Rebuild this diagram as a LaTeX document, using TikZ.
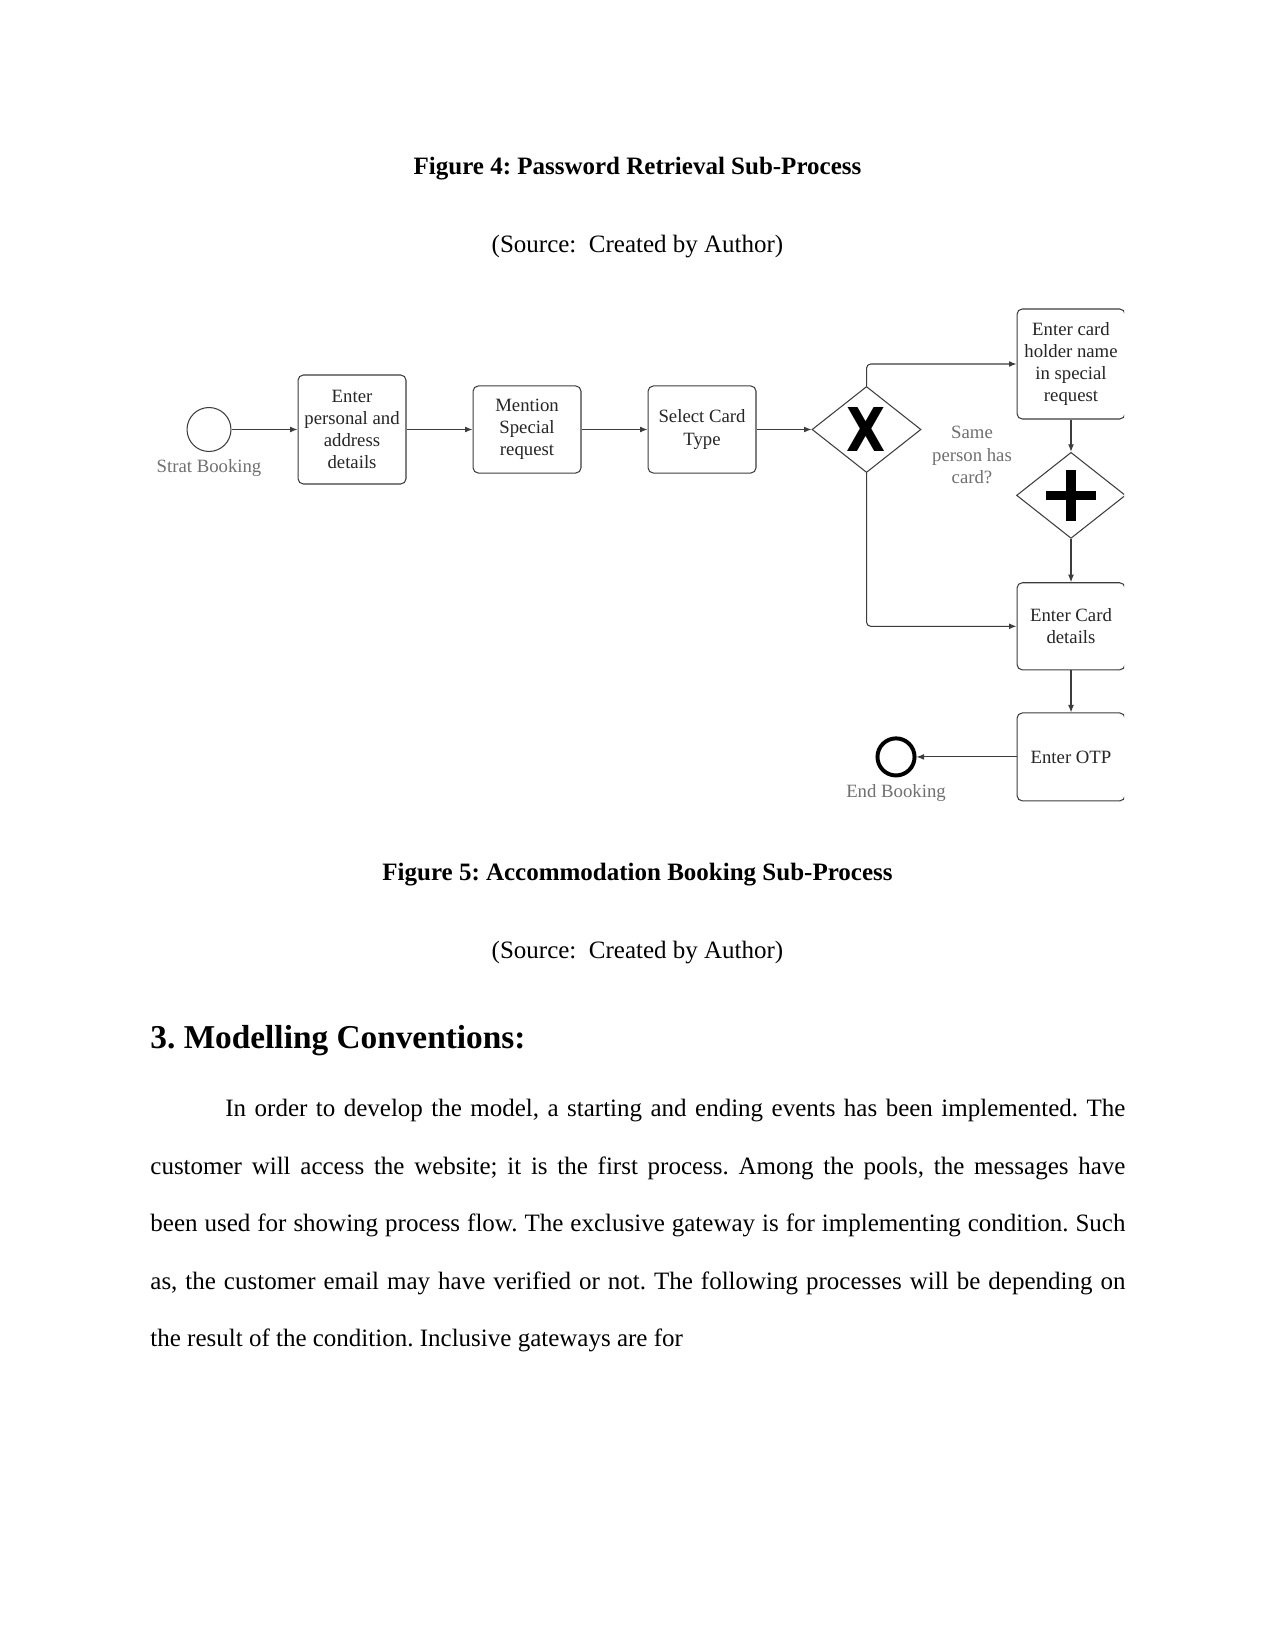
\documentclass[tikz,border=0pt]{standalone}
\usepackage{fontspec}
\setmainfont{Liberation Serif}
\newfontfamily\gwfont{DejaVu Sans}
\usetikzlibrary{arrows.meta,positioning,shapes.geometric}
\definecolor{taskline}{HTML}{3C3C3C}
\definecolor{evlabel}{HTML}{707070}
\tikzset{task/.style={draw=taskline,rounded corners=2.5pt,line width=0.5pt,minimum width=51.8pt,align=center,text=black!85,font=\fontsize{9}{10.6}\selectfont,inner sep=2pt},gw/.style={diamond,draw=taskline,line width=0.5pt,minimum width=52.3pt,minimum height=41.3pt,inner sep=0pt},startev/.style={circle,draw=taskline,line width=0.5pt,minimum size=21.1pt,inner sep=0pt},endev/.style={circle,draw=black,line width=1.9pt,minimum size=17.8pt,inner sep=0pt},evtext/.style={text=evlabel,font=\fontsize{9}{11}\selectfont},flow/.style={-{Latex[length=3.6pt,width=2.8pt]},draw=taskline,line width=0.5pt,rounded corners=2pt},caption/.style={font=\bfseries\fontsize{12}{14}\selectfont},source/.style={font=\fontsize{12}{14}\selectfont}}

\begin{document}
\frenchspacing
\begin{tikzpicture}[x=0.48pt,y=-0.48pt]
\useasboundingbox[fill=white] (0,0) rectangle (1275,1650);
\node[caption,anchor=base] (fig4) at (637.5,174.5) {Figure 4: Password Retrieval Sub-Process};
\node[source,anchor=base] (src4) at (637.5,252.5) {(Source:~ Created by Author)};
% booking flow
\begin{scope}
\clip (0,0) rectangle (1124,1650);
\node[startev,label={[evtext]below:Strat Booking}] (start) at (209,429.5) {};
\node[task,minimum height=52.3pt,right=31.7pt of start] (personal) {Enter\\personal and\\address\\details};
\node[task,minimum height=41.8pt,right=31.7pt of personal] (special) {Mention\\Special\\request};
\node[task,minimum height=41.8pt,right=31.7pt of special] (cardtype) {Select Card\\Type};
\node[gw,right=26.4pt of cardtype,label={[font=\gwfont\bfseries\fontsize{29}{29}\selectfont]center:\scalebox{0.84}[1]{X}}] (xor) {};
\node[evtext,align=center] (samecard) at (972,455) {Same\\person has\\card?};
\node[task,minimum height=52.8pt] (holder) at (1071,364) {Enter card\\holder name\\in special\\request};
\node[gw,below=15.5pt of holder] (and) {};
\node[task,minimum height=41.8pt,below=20.8pt of and] (carddetails) {Enter Card\\details};
\node[task,minimum height=42.2pt,below=20.2pt of carddetails] (otp) {Enter OTP};
\node[endev,label={[evtext]below:End Booking},left=48pt of otp] (finish) {};
\draw[line width=4.5pt] ([xshift=-11.8pt]and.center) -- ([xshift=11.8pt]and.center);\draw[line width=4.5pt] ([yshift=12.2pt]and.center) -- ([yshift=-12.2pt]and.center);
\draw[flow] (start) -- (personal);\draw[flow] (personal) -- (special);\draw[flow] (special) -- (cardtype);\draw[flow] (cardtype) -- (xor);
\draw[flow] (xor.north) |- (holder);\draw[flow] (xor.south) |- (carddetails);
\draw[flow] (holder) -- (and);\draw[flow] (and) -- (carddetails);\draw[flow] (carddetails) -- (otp);\draw[flow] (otp) -- (finish);
\end{scope}
\node[caption,anchor=base] (fig5) at (637.5,880.5) {Figure 5: Accommodation Booking Sub-Process};
\node[source,anchor=base] (src5) at (637.5,958.5) {(Source:~ Created by Author)};
\node[anchor=base west,inner sep=0pt,font=\bfseries\fontsize{16}{19}\selectfont] (heading) at (150,1048) {3. Modelling Conventions:};
\node[anchor=north west,inner sep=0pt,text width=468pt,align=justify,font=\fontsize{12}{27.6}\selectfont] (body) at (150,1099) {\hspace*{36pt}In order to develop the model, a starting and ending events has been implemented. The\linebreak customer will access the website; it is the first process. Among the pools, the messages have\linebreak been used for showing process flow. The exclusive gateway is for implementing condition. Such\linebreak as, the customer email may have verified or not. The following processes will be depending on\linebreak the result of the condition. Inclusive gateways are for};
\end{tikzpicture}
\end{document}
